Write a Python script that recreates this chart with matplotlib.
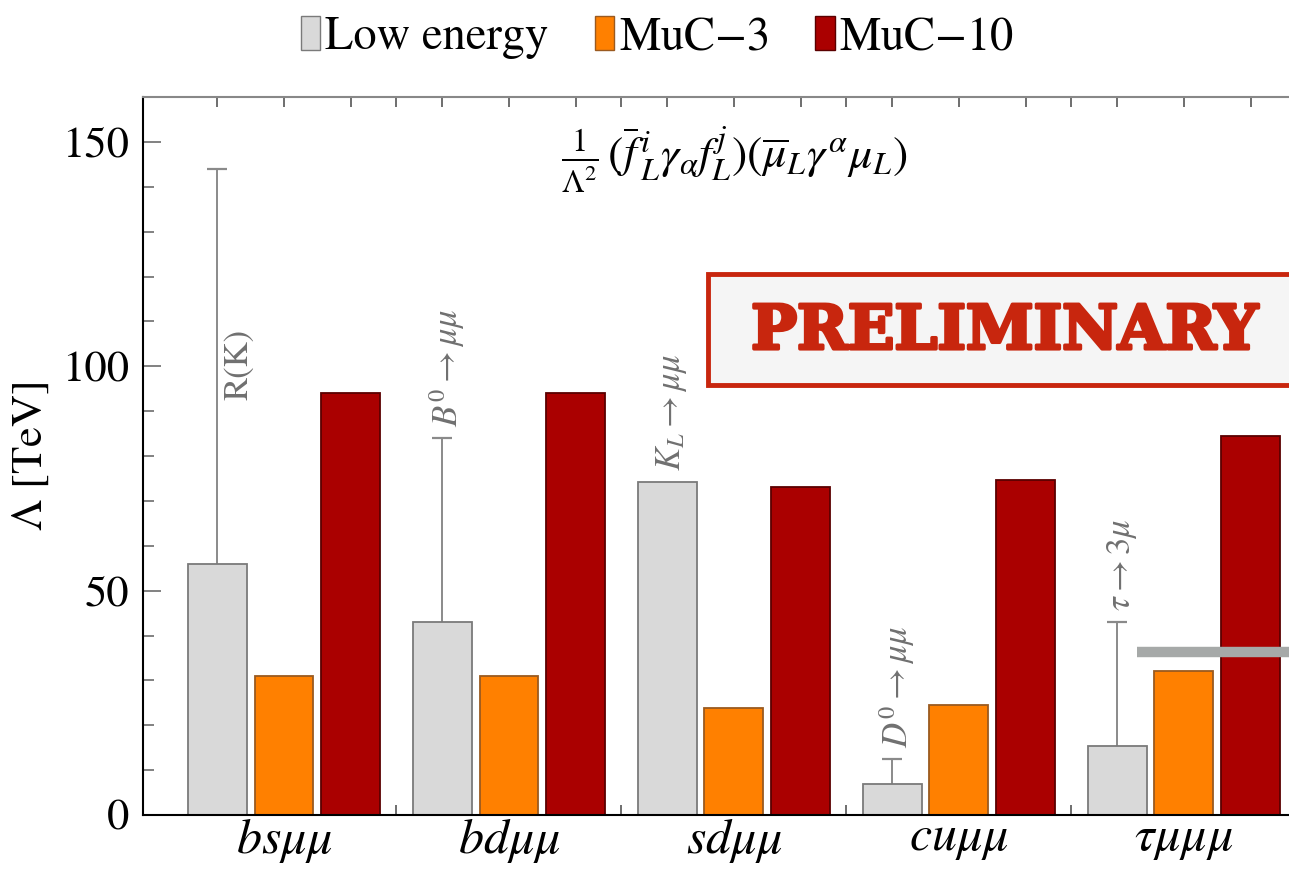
import matplotlib
matplotlib.use("Agg")
import matplotlib.pyplot as plt
import matplotlib.patheffects as pe
import numpy as np
from matplotlib.patches import Rectangle, Patch

plt.rcParams["font.family"] = "STIXGeneral"
plt.rcParams["mathtext.fontset"] = "stix"

# Operators and bounds on the scale Lambda [TeV]
groups = [r"$bs\mu\mu$", r"$bd\mu\mu$", r"$sd\mu\mu$", r"$cu\mu\mu$", r"$\tau\mu\mu\mu$"]
low_energy = [56.0, 43.0, 74.2, 6.9, 15.4]
low_energy_upper = [144.0, 84.0, None, 12.5, 43.0]
muc3 = [31.0, 31.0, 23.8, 24.5, 32.1]
muc10 = [94.0, 94.0, 73.1, 74.7, 84.5]
process_labels = ["R(K)", r"$B^0\rightarrow\mu\mu$", r"$K_L\rightarrow\mu\mu$",
                  r"$D^0\rightarrow\mu\mu$", r"$\tau\rightarrow3\mu$"]
tau_line = 36.3

c_gray, c_orange, c_red = "#d9d9d9", "#ff8000", "#aa0000"

fig = plt.figure(figsize=(12.89, 8.69), dpi=100)
ax = fig.add_axes([0.1109, 0.0621, 0.917, 0.8262])

x = np.arange(len(groups))
step, w = 0.297, 0.262
ax.bar(x - step, low_energy, w, color=c_gray, edgecolor="#7a7a7a", linewidth=1.3, zorder=2)
ax.bar(x, muc3, w, color=c_orange, edgecolor="#9a5a20", linewidth=1.3, zorder=2)
ax.bar(x + step, muc10, w, color=c_red, edgecolor="#5a0000", linewidth=1.3, zorder=2)

# upper ends of the low-energy ranges
for i, (v, up) in enumerate(zip(low_energy, low_energy_upper)):
    if up is None:
        continue
    ax.vlines(x[i] - step, v, up, color="#8a8a8a", lw=1.4, zorder=1)
    ax.plot([x[i] - step], [up], marker="_", ms=14, mew=1.6, color="#8a8a8a", zorder=1)

# process names above each low-energy bound
for i, lab in enumerate(process_labels):
    top = low_energy_upper[i] if low_energy_upper[i] is not None else low_energy[i]
    if i == 0:
        ax.text(x[i] - step + 0.1, 92.5, lab, rotation=90, ha="center", va="bottom",
                fontsize=25, color="#707070")
    else:
        ax.text(x[i] - step + 0.02, top + 2.5, lab, rotation=90, ha="center", va="bottom",
                fontsize=25, color="#707070")

ax.plot([x[4] - 0.21, x[4] + 0.7], [tau_line, tau_line], color="#a6a9a8", lw=7.5,
        solid_capstyle="butt", zorder=3, clip_on=False)

ax.text(0.5, 0.912, r"$\frac{1}{\Lambda^2}\,(\overline{f}^{\,i}_{\,L}\gamma_\alpha f^j_L)(\overline{\mu}_L\gamma^\alpha\mu_L)$",
        transform=ax.transAxes, ha="center", va="center", fontsize=33)

# preliminary stamp
ax.add_patch(Rectangle((0.478, 0.599), 0.6, 0.1545, transform=ax.transAxes,
                       facecolor="#f5f5f5", edgecolor="#c8260e", lw=3.5, clip_on=False, zorder=4))
ax.text(0.729, 0.673, "PRELIMINARY", transform=ax.transAxes, ha="center", va="center",
        fontsize=44, fontweight="bold", family="DejaVu Serif", color="#c8260e", zorder=5,
        path_effects=[pe.withStroke(linewidth=2.5, foreground="#c8260e")])

ax.set_xlim(-0.627, 4.627)
ax.set_ylim(0, 160)
ax.set_xticks(x)
ax.set_xticklabels(groups, fontsize=36)
ax.set_xticks(np.concatenate([x - step, x + step, x[:-1] + 0.5]), minor=True)
ax.tick_params(axis="x", which="major", direction="in", length=7, width=1.2, pad=1,
               top=True, color="#555555")
ax.tick_params(axis="x", which="minor", direction="in", length=7, width=1.2,
               top=True, color="#555555")
ax.set_yticks([0, 50, 100, 150])
ax.set_yticks(np.arange(0, 161, 10), minor=True)
ax.tick_params(axis="y", which="major", direction="in", length=13, width=1.3,
               labelsize=32, pad=10, right=True, color="#777777")
ax.tick_params(axis="y", which="minor", direction="in", length=8, width=1.3,
               right=True, color="#777777")
ax.set_ylabel(r"$\Lambda$ [TeV]", fontsize=32, labelpad=8)
for s in ["left", "bottom"]:
    ax.spines[s].set_linewidth(1.5)
ax.spines["top"].set_color("#888888")
ax.spines["top"].set_linewidth(1.5)

handles = [Patch(facecolor=c_gray, edgecolor="#7a7a7a", label="Low energy"),
           Patch(facecolor=c_orange, edgecolor="#9a5a20", label="MuC$-$3"),
           Patch(facecolor=c_red, edgecolor="#5a0000", label="MuC$-$10")]
fig.legend(handles=handles, loc="upper center", bbox_to_anchor=(0.51, 1.03), ncol=3,
           frameon=False, fontsize=33.5, handlelength=0.42, handleheight=0.75,
           handletextpad=0.1, columnspacing=1.0)

fig.savefig("out.png", dpi=100)
